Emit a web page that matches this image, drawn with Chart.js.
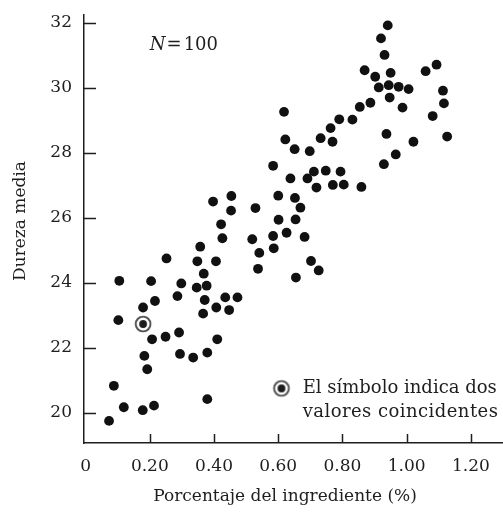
<!DOCTYPE html>
<html><head><meta charset="utf-8">
<script src="https://cdn.jsdelivr.net/npm/chart.js@4.4.1/dist/chart.umd.min.js"></script>
<style>html,body{margin:0;padding:0;background:#fff}canvas{display:block}</style>
</head><body>
<canvas id="c" width="503" height="513"></canvas>
<script>
// ---- data ----
const pctIngredient = [
  0.073,0.088,0.119,0.178,0.213,0.183,0.192,0.102,0.105,0.179,
  0.216,0.179,0.179,0.207,0.249,0.291,0.294,0.335,0.379,0.379,
  0.204,0.298,0.252,0.286,0.346,0.377,0.371,0.366,0.407,0.447,
  0.435,0.473,0.410,0.368,0.348,0.406,0.357,0.426,0.422,0.397,
  0.454,0.453,0.519,0.529,0.541,0.537,0.586,0.584,0.626,0.682,
  0.702,0.726,0.655,0.600,0.652,0.669,0.601,0.654,0.584,0.638,
  0.618,0.622,0.651,0.698,0.691,0.711,0.719,0.748,0.770,0.794,
  0.804,0.859,0.732,0.769,0.763,0.790,0.831,0.854,0.887,0.941,
  0.920,0.931,0.869,0.902,0.950,0.913,0.944,0.975,1.006,0.947,
  0.987,1.059,1.093,1.113,1.116,1.081,1.126,0.937,1.021,0.966,
  0.929
];
const meanHardness = [
  19.75,20.83,20.17,20.08,20.22,21.75,21.34,22.85,24.06,23.24,
  23.44,22.73,22.73,22.26,22.34,22.47,21.81,21.70,21.85,20.42,
  24.05,23.98,24.75,23.59,23.85,23.91,23.47,23.05,23.24,23.16,
  23.55,23.55,22.26,24.28,24.66,24.66,25.11,25.37,25.80,26.50,
  26.67,26.22,25.34,26.30,24.92,24.43,25.06,25.44,25.54,25.41,
  24.67,24.38,24.16,26.68,26.61,26.31,25.94,25.95,27.60,27.21,
  29.26,28.41,28.11,28.05,27.21,27.42,26.93,27.45,27.01,27.42,
  27.02,26.95,28.45,28.34,28.76,29.03,29.02,29.41,29.54,31.92,
  31.52,31.01,30.54,30.34,30.46,30.01,30.08,30.03,29.96,29.70,
  29.39,30.51,30.71,29.91,29.52,29.13,28.50,28.58,28.34,27.95,
  27.65
];
const xTickValues = [0,0.2,0.4,0.6,0.8,1.0,1.2];
const xTickLabels = ["0","0.20","0.40","0.60","0.80","1.00","1.20"];
const yTickValues = [20,22,24,26,28,30,32];
const xTitle = "Porcentaje del ingrediente (%)";
const yTitle = "Dureza media";
const sampleSize = "100";
const noteLines = ["El símbolo indica dos","valores coincidentes"];

// ---- build datasets ----
const counts = {};
pctIngredient.forEach((x,i)=>{const k=x+"|"+meanHardness[i];counts[k]=(counts[k]||0)+1;});
const singles=[], doubles=[], seen={};
pctIngredient.forEach((x,i)=>{
  const k=x+"|"+meanHardness[i];
  if(counts[k]>1){ if(!seen[k]){seen[k]=1;doubles.push({x:x,y:meanHardness[i]});} }
  else singles.push({x:x,y:meanHardness[i]});
});

const FONT = "DejaVu Serif";
const INK = "#1e1e1e";

function makeRing(){
  const c=document.createElement('canvas'); c.width=20; c.height=20;
  const g=c.getContext('2d');
  g.beginPath(); g.arc(10,10,7.4,0,Math.PI*2); g.fillStyle='#fff'; g.fill();
  g.lineWidth=1.9; g.strokeStyle='#4d4d4d'; g.stroke();
  g.beginPath(); g.arc(10,10,3.9,0,Math.PI*2); g.fillStyle='#1c1c1c'; g.fill();
  return c;
}
const ring = makeRing();

const decor = {
  id:'decor',
  afterDraw(chart){
    const {ctx, scales:{x,y}, chartArea:a} = chart;
    ctx.save();
    ctx.strokeStyle=INK; ctx.lineWidth=1.5;
    // inward tick marks
    xTickValues.forEach(v=>{ if(v===0) return; const px=Math.round(x.getPixelForValue(v))+0.5;
      ctx.beginPath(); ctx.moveTo(px,a.bottom); ctx.lineTo(px,a.bottom-9); ctx.stroke(); });
    yTickValues.forEach(v=>{ const py=Math.round(y.getPixelForValue(v))+0.5;
      ctx.beginPath(); ctx.moveTo(a.left,py); ctx.lineTo(a.left+12,py); ctx.stroke(); });
    ctx.fillStyle=INK; ctx.textBaseline='middle';
    // N = 100
    let nx=x.getPixelForValue(0.2), ny=y.getPixelForValue(31.31);
    ctx.font="italic 18px '"+FONT+"'"; ctx.textAlign='left';
    ctx.fillText("N",nx,ny); nx+=ctx.measureText("N").width+1;
    ctx.font="18px '"+FONT+"'";
    ctx.fillText("=",nx,ny); nx+=ctx.measureText("=").width+2;
    ctx.fillText(sampleSize,nx,ny);
    // note with symbol
    const sx=x.getPixelForValue(0.610), sy=y.getPixelForValue(20.75);
    ctx.drawImage(ring,sx-10,sy-10);
    ctx.font="18px '"+FONT+"'";
    ctx.fillText(noteLines[0],x.getPixelForValue(0.676),y.getPixelForValue(20.76));
    try{ ctx.letterSpacing='0.45px'; }catch(e){}
    ctx.fillText(noteLines[1],x.getPixelForValue(0.676),y.getPixelForValue(20.01));
    try{ ctx.letterSpacing='0px'; }catch(e){}
    // axis titles
    ctx.font="17px '"+FONT+"'"; ctx.textAlign='center';
    ctx.fillText(xTitle,285,497);
    ctx.save(); ctx.translate(21,221); ctx.rotate(-Math.PI/2); ctx.fillText(yTitle,0,0); ctx.restore();
    ctx.restore();
  }
};

function noPad(s){ s.paddingTop=0; s.paddingBottom=0; s.paddingLeft=0; s.paddingRight=0; }

new Chart(document.getElementById('c'),{
  type:'scatter',
  data:{datasets:[
    {data:singles, pointRadius:4.9, pointHoverRadius:4.9, backgroundColor:'#111', borderWidth:0},
    {data:doubles, pointStyle:ring, pointRadius:10, pointHoverRadius:10}
  ]},
  options:{
    responsive:false, animation:false, devicePixelRatio:1,
    layout:{autoPadding:false, padding:{top:15,right:0,left:0,bottom:0}},
    plugins:{legend:{display:false}, tooltip:{enabled:false}},
    scales:{
      x:{type:'linear', min:-0.005, max:1.30,
        grid:{display:false, drawTicks:false},
        border:{display:true, color:INK, width:1.5},
        ticks:{font:{family:FONT,size:17}, color:INK, padding:13, maxRotation:0,
               callback:(v,i)=>xTickLabels[i]},
        afterBuildTicks:s=>{s.ticks=xTickValues.map(v=>({value:v}));},
        afterFit:s=>{s.height=70; noPad(s);}
      },
      y:{type:'linear', min:19.07, max:32.24,
        grid:{display:false, drawTicks:false},
        border:{display:true, color:INK, width:1.5},
        ticks:{font:{family:FONT,size:17}, color:INK, padding:12,
               callback:v=>String(v)},
        afterBuildTicks:s=>{s.ticks=yTickValues.map(v=>({value:v}));},
        afterFit:s=>{s.width=84; noPad(s);}
      }
    }
  },
  plugins:[decor]
});
</script>
</body></html>
